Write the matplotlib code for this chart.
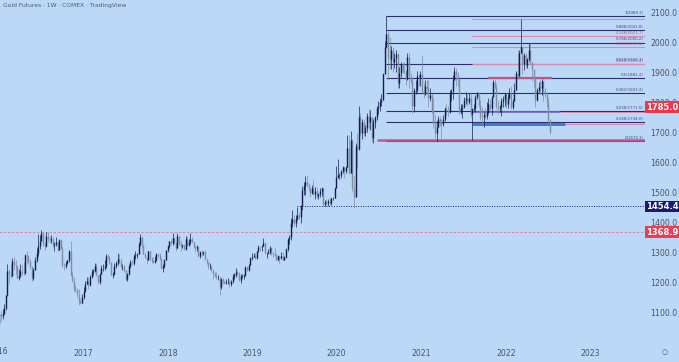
import numpy as np
import pandas as pd
import matplotlib
matplotlib.use('Agg')
import matplotlib.pyplot as plt
import matplotlib.dates as mdates
from matplotlib.patches import Rectangle
from matplotlib.transforms import blended_transform_factory

# weekly gold futures candles, first week starts Mon 2016-01-04
first_open = 1061
close_2016 = [1097, 1089, 1097, 1116, 1158, 1239, 1230, 1221, 1271, 1259, 1254, 1217, 1223,
              1240, 1234, 1231, 1291, 1290, 1273, 1252, 1216, 1243, 1275, 1298, 1322, 1340,
              1366, 1328, 1322, 1357, 1344, 1343, 1345, 1324, 1328, 1334, 1310, 1343, 1317,
              1257, 1254, 1267, 1276, 1304, 1225, 1207, 1178, 1177, 1161, 1137, 1133, 1152]
high_2016 = [1112, 1105, 1112, 1128, 1160, 1263, 1246, 1262, 1281, 1287, 1275, 1256, 1245,
             1262, 1258, 1270, 1297, 1306, 1291, 1280, 1256, 1248, 1286, 1316, 1362, 1358,
             1377, 1370, 1336, 1370, 1368, 1357, 1358, 1351, 1335, 1353, 1337, 1346, 1344,
             1318, 1264, 1272, 1277, 1308, 1338, 1238, 1219, 1191, 1183, 1180, 1146, 1162]
low_2016 = [1060, 1072, 1079, 1094, 1110, 1157, 1200, 1215, 1221, 1242, 1230, 1215, 1209,
            1218, 1225, 1227, 1230, 1266, 1263, 1246, 1207, 1208, 1242, 1269, 1290, 1312,
            1339, 1322, 1310, 1319, 1335, 1331, 1332, 1318, 1306, 1321, 1305, 1308, 1313,
            1253, 1241, 1250, 1262, 1268, 1222, 1202, 1171, 1170, 1150, 1124, 1128, 1132]

close_2017 = [1173, 1197, 1204, 1191, 1220, 1234, 1239, 1257, 1226, 1201, 1229, 1249, 1249,
              1254, 1288, 1284, 1268, 1227, 1228, 1254, 1267, 1280, 1272, 1255, 1256, 1242,
              1213, 1228, 1255, 1269, 1264, 1290, 1291, 1297, 1330, 1351, 1324, 1297, 1284,
              1274, 1305, 1280, 1272, 1270, 1274, 1296, 1292, 1280, 1248, 1257, 1275, 1309]
high_2017 = [1185, 1207, 1220, 1220, 1226, 1245, 1245, 1264, 1264, 1226, 1233, 1260, 1262,
             1274, 1295, 1296, 1290, 1268, 1236, 1265, 1272, 1298, 1296, 1282, 1261, 1259,
             1242, 1232, 1261, 1275, 1276, 1295, 1306, 1299, 1334, 1362, 1353, 1325, 1300,
             1285, 1306, 1308, 1285, 1285, 1288, 1298, 1300, 1300, 1282, 1262, 1280, 1310]
low_2017 = [1146, 1170, 1194, 1180, 1190, 1214, 1225, 1234, 1222, 1195, 1196, 1228, 1240,
            1242, 1250, 1278, 1263, 1225, 1214, 1227, 1248, 1260, 1265, 1250, 1242, 1237,
            1206, 1205, 1225, 1250, 1259, 1260, 1280, 1282, 1295, 1323, 1317, 1294, 1281,
            1261, 1280, 1276, 1265, 1264, 1267, 1271, 1287, 1274, 1244, 1236, 1250, 1274]

close_2018 = [1322, 1338, 1333, 1350, 1333, 1315, 1354, 1330, 1323, 1324, 1313, 1347, 1327,
              1336, 1347, 1336, 1323, 1315, 1320, 1290, 1303, 1298, 1302, 1278, 1270, 1254,
              1255, 1241, 1231, 1223, 1219, 1219, 1184, 1213, 1206, 1199, 1201, 1201, 1196,
              1207, 1222, 1229, 1235, 1233, 1210, 1223, 1223, 1226, 1252, 1241, 1258, 1282]
high_2018 = [1326, 1340, 1345, 1366, 1352, 1337, 1364, 1356, 1340, 1330, 1328, 1356, 1357,
             1345, 1366, 1353, 1337, 1321, 1327, 1323, 1307, 1309, 1307, 1310, 1279, 1267,
             1265, 1259, 1245, 1235, 1237, 1224, 1220, 1216, 1214, 1207, 1211, 1214, 1212,
             1210, 1230, 1233, 1249, 1243, 1236, 1228, 1230, 1230, 1255, 1256, 1262, 1287]
low_2018 = [1302, 1316, 1326, 1327, 1330, 1307, 1315, 1325, 1305, 1316, 1308, 1310, 1323,
            1322, 1330, 1334, 1316, 1302, 1305, 1286, 1282, 1290, 1292, 1276, 1262, 1246,
            1246, 1237, 1211, 1220, 1211, 1210, 1160, 1178, 1197, 1195, 1194, 1197, 1187,
            1188, 1200, 1212, 1220, 1221, 1206, 1200, 1216, 1212, 1222, 1238, 1239, 1262]

close_2019 = [1286, 1290, 1283, 1304, 1320, 1318, 1322, 1331, 1299, 1299, 1303, 1314, 1298,
              1295, 1293, 1276, 1289, 1281, 1288, 1277, 1284, 1311, 1346, 1352, 1399, 1413,
              1400, 1412, 1426, 1419, 1457, 1509, 1523, 1537, 1529, 1515, 1499, 1515, 1497,
              1507, 1489, 1494, 1505, 1514, 1462, 1468, 1464, 1472, 1465, 1481, 1481, 1515]
high_2019 = [1299, 1298, 1298, 1306, 1326, 1322, 1324, 1349, 1335, 1303, 1312, 1322, 1320,
             1301, 1315, 1295, 1291, 1289, 1301, 1303, 1290, 1314, 1349, 1360, 1415, 1442,
             1424, 1427, 1453, 1437, 1460, 1522, 1535, 1555, 1560, 1533, 1516, 1525, 1542,
             1518, 1520, 1500, 1516, 1520, 1515, 1475, 1479, 1480, 1484, 1482, 1487, 1519]
low_2019 = [1276, 1284, 1278, 1278, 1301, 1305, 1305, 1322, 1296, 1282, 1294, 1296, 1291,
            1287, 1289, 1274, 1274, 1267, 1278, 1274, 1275, 1281, 1307, 1330, 1342, 1385,
            1388, 1385, 1409, 1412, 1400, 1442, 1491, 1491, 1518, 1506, 1485, 1495, 1491,
            1480, 1483, 1478, 1484, 1490, 1456, 1456, 1455, 1456, 1459, 1459, 1477, 1482]

close_2020 = [1552, 1560, 1560, 1571, 1587, 1573, 1586, 1648, 1566, 1674, 1516, 1484, 1654,
              1645, 1752, 1698, 1735, 1700, 1714, 1756, 1735, 1751, 1683, 1737, 1753, 1781,
              1790, 1801, 1810, 1897, 1986, 2028, 1949, 1947, 1975, 1935, 1948, 1962, 1866,
              1900, 1930, 1906, 1905, 1879, 1952, 1889, 1872, 1788, 1841, 1843, 1888, 1883]
high_2020 = [1590, 1613, 1566, 1577, 1590, 1584, 1590, 1691, 1691, 1704, 1680, 1555, 1667,
             1700, 1788, 1765, 1747, 1745, 1724, 1765, 1779, 1775, 1744, 1746, 1755, 1788,
             1804, 1817, 1829, 1898, 2005, 2089, 2040, 2019, 1990, 1986, 1966, 1975, 1966,
             1920, 1936, 1931, 1936, 1910, 1966, 1966, 1900, 1884, 1848, 1876, 1906, 1897]
low_2020 = [1516, 1550, 1546, 1549, 1566, 1549, 1565, 1584, 1563, 1575, 1506, 1450, 1485,
            1583, 1643, 1690, 1680, 1690, 1688, 1702, 1715, 1708, 1670, 1667, 1716, 1743,
            1763, 1773, 1788, 1808, 1901, 1981, 1874, 1911, 1912, 1902, 1916, 1902, 1850,
            1850, 1886, 1899, 1894, 1859, 1874, 1850, 1861, 1764, 1770, 1829, 1836, 1855]

close_2021 = [1895, 1835, 1828, 1856, 1850, 1814, 1824, 1777, 1734, 1698, 1720, 1745, 1732,
              1729, 1744, 1780, 1777, 1768, 1832, 1838, 1877, 1905, 1892, 1879, 1769, 1781,
              1784, 1810, 1815, 1802, 1817, 1763, 1779, 1781, 1819, 1833, 1792, 1753, 1751,
              1760, 1757, 1768, 1796, 1783, 1818, 1868, 1852, 1788, 1783, 1784, 1804, 1811, 1829]
high_2021 = [1907, 1960, 1865, 1875, 1876, 1876, 1850, 1829, 1816, 1760, 1740, 1756, 1755,
             1745, 1760, 1785, 1797, 1790, 1842, 1846, 1891, 1919, 1916, 1903, 1880, 1797,
             1795, 1818, 1834, 1836, 1833, 1832, 1783, 1795, 1824, 1836, 1836, 1809, 1787,
             1768, 1782, 1801, 1814, 1813, 1823, 1877, 1879, 1862, 1808, 1793, 1815, 1823, 1833]
low_2021 = [1855, 1828, 1817, 1825, 1830, 1785, 1805, 1767, 1717, 1683, 1673, 1718, 1722,
            1678, 1722, 1738, 1760, 1756, 1767, 1807, 1813, 1877, 1855, 1855, 1761, 1761,
            1750, 1783, 1795, 1789, 1795, 1753, 1677, 1772, 1768, 1812, 1786, 1742, 1721,
            1720, 1746, 1747, 1761, 1776, 1760, 1821, 1845, 1780, 1762, 1770, 1755, 1784, 1790]

close_2022 = [1797, 1817, 1832, 1786, 1807, 1842, 1900, 1888, 1967, 1985, 1929, 1958, 1924,
              1945, 1975, 1934, 1911, 1882, 1808, 1842, 1851, 1850, 1871, 1840, 1830, 1801,
              1742, 1703]
high_2022 = [1831, 1828, 1848, 1855, 1812, 1865, 1907, 1976, 1974, 2079, 1967, 1966, 1966,
             1949, 1998, 1998, 1920, 1910, 1885, 1849, 1870, 1874, 1879, 1859, 1848, 1835,
             1815, 1745]
low_2022 = [1782, 1782, 1812, 1780, 1780, 1806, 1842, 1878, 1889, 1975, 1895, 1910, 1915,
            1915, 1938, 1930, 1872, 1851, 1785, 1805, 1837, 1828, 1826, 1805, 1820, 1785,
            1732, 1696]

# fibonacci retracement 2021 low -> 2020 high (navy) and 2022 high -> low (pink)
fib_low, fib_high = 1673.3, 2089.2
fib_ratios = [1, 0.886, 0.786, 0.618, 0.5, 0.382, 0.236, 0.146, 0]
pink_high, pink_low = 2078.8, 1687.7
pink_ratios = [0, 0.146, 0.236, 0.382]

last_price = 1785.0
support_level = 1454.4
old_high = 1368.9

price_ticks = [1100, 1200, 1300, 1400, 1500, 1600, 1700, 1800, 1900, 2000, 2100]
year_ticks = [2017, 2018, 2019, 2020, 2021, 2022, 2023]

BG = '#bbd8f6'
UP = '#121c4e'
DOWN = '#7f8ca2'
NAVY = '#2c2f6c'
PINK = '#d88ab0'
TXT = '#4f5363'


def d(s):
    return mdates.date2num(pd.Timestamp(s))


closes = np.array(close_2016 + close_2017 + close_2018 + close_2019 + close_2020 + close_2021 + close_2022, float)
highs = np.array(high_2016 + high_2017 + high_2018 + high_2019 + high_2020 + high_2021 + high_2022, float)
lows = np.array(low_2016 + low_2017 + low_2018 + low_2019 + low_2020 + low_2021 + low_2022, float)
opens = np.concatenate([[first_open], closes[:-1]])
highs = np.maximum(highs, np.maximum(opens, closes))
lows = np.minimum(lows, np.minimum(opens, closes))
weeks = pd.date_range('2016-01-04', periods=len(closes), freq='W-MON')
x = mdates.date2num(weeks)
up = closes >= opens

fig = plt.figure(figsize=(6.79, 3.62), dpi=100, facecolor=BG)
ax = fig.add_axes([0, 19 / 362, 645 / 679, 343 / 362], facecolor=BG)
for s in ax.spines.values():
    s.set_visible(False)

# candles
for mask, col in [(~up, DOWN), (up, UP)]:
    ax.vlines(x[mask], lows[mask], highs[mask], color=col, lw=0.5, zorder=3)
    ax.vlines(x[mask], opens[mask], closes[mask], color=col, lw=1.0, zorder=3)

x_right = d('2023-08-26')

# horizontal levels
ax.hlines(old_high, d('2015-12-01'), x_right, color='#e07a92', lw=0.6, linestyles=(0, (3, 2)), zorder=2)
ax.hlines(support_level, d('2019-07-13'), x_right, color='#1f1f6e', lw=0.7, linestyles=(0, (1, 1.5)), zorder=2)

# navy fib
rng = fib_high - fib_low
for r in fib_ratios:
    lvl = fib_low + r * rng
    ax.hlines(lvl, d('2020-08-03'), x_right, color=NAVY, lw=0.8, zorder=2)
    ax.text(d('2023-08-20'), lvl + 4, '%g(%.1f)' % (r, lvl), fontsize=2.8, color='#4a3f86',
            ha='right', va='bottom', zorder=6)

# pink fib
prng = pink_high - pink_low
for r in pink_ratios:
    lvl = pink_high - r * prng
    ax.hlines(lvl, d('2021-08-09'), x_right, color=PINK, lw=0.8, zorder=2)
    if r > 0:
        ax.text(d('2023-08-20'), lvl + 3, '%g(%.1f)' % (r, lvl), fontsize=2.8, color='#c0508a',
                ha='right', va='bottom', zorder=6)

# highlighted zones
ax.hlines(pink_high - 0.5 * prng, d('2021-10-18'), d('2022-07-18'), color='#c4508c', lw=1.6, zorder=2)
ax.hlines(1769, d('2021-08-09'), d('2022-08-23'), color='#7a62c8', lw=1.2, zorder=2)
ax.hlines(1769, d('2022-08-23'), x_right, color=PINK, lw=0.7, zorder=2)
ax.hlines(1729, d('2021-08-09'), d('2022-09-13'), color='#3f72d8', lw=2.0, zorder=2)
ax.hlines(1729, d('2022-09-13'), x_right, color=PINK, lw=0.8, zorder=2)
ax.hlines(1674, d('2020-06-24'), x_right, color='#c8508c', lw=1.8, zorder=2)

ax.set_xlim(d('2016-01-07'), x_right)
ax.set_ylim(999, 2142.3)

ax.yaxis.tick_right()
ax.set_yticks(price_ticks)
ax.set_yticklabels(['%.1f' % p for p in price_ticks])
ax.tick_params(axis='y', length=0, pad=4, labelsize=5.6, labelcolor=TXT)
ax.set_xticks([d('%d-01-01' % yr) for yr in year_ticks])
ax.set_xticklabels([str(yr) for yr in year_ticks])
ax.tick_params(axis='x', length=0, pad=4.5, labelsize=5.6, labelcolor=TXT)
fig.text(-2 / 679, 10 / 362, '2016', fontsize=5.6, color=TXT, ha='center', va='center')

# price scale tags
tr = blended_transform_factory(ax.transAxes, ax.transData)
x1 = 679 / 645
for val, col in [(last_price, '#f0364a'), (support_level, '#1b1a6c'), (old_high, '#f03c50')]:
    ax.add_patch(Rectangle((1.0, val - 19), x1 - 1.0, 38, transform=tr, facecolor=col,
                           edgecolor='none', clip_on=False, zorder=10))
    ax.text((1.0 + x1) / 2, val, '%.1f' % val, transform=tr, color='white', fontsize=6,
            fontweight='bold', ha='center', va='center', clip_on=False, zorder=11)

fig.text(3 / 679, 1 - 5 / 362, 'Gold Futures · 1W · COMEX · TradingView', fontsize=4.3,
         color='#555a6b', ha='left', va='center')
fig.text(665 / 679, 10 / 362, '○', fontsize=5, color=TXT, ha='center', va='center')

fig.savefig('out.png', dpi=100, facecolor=BG)
